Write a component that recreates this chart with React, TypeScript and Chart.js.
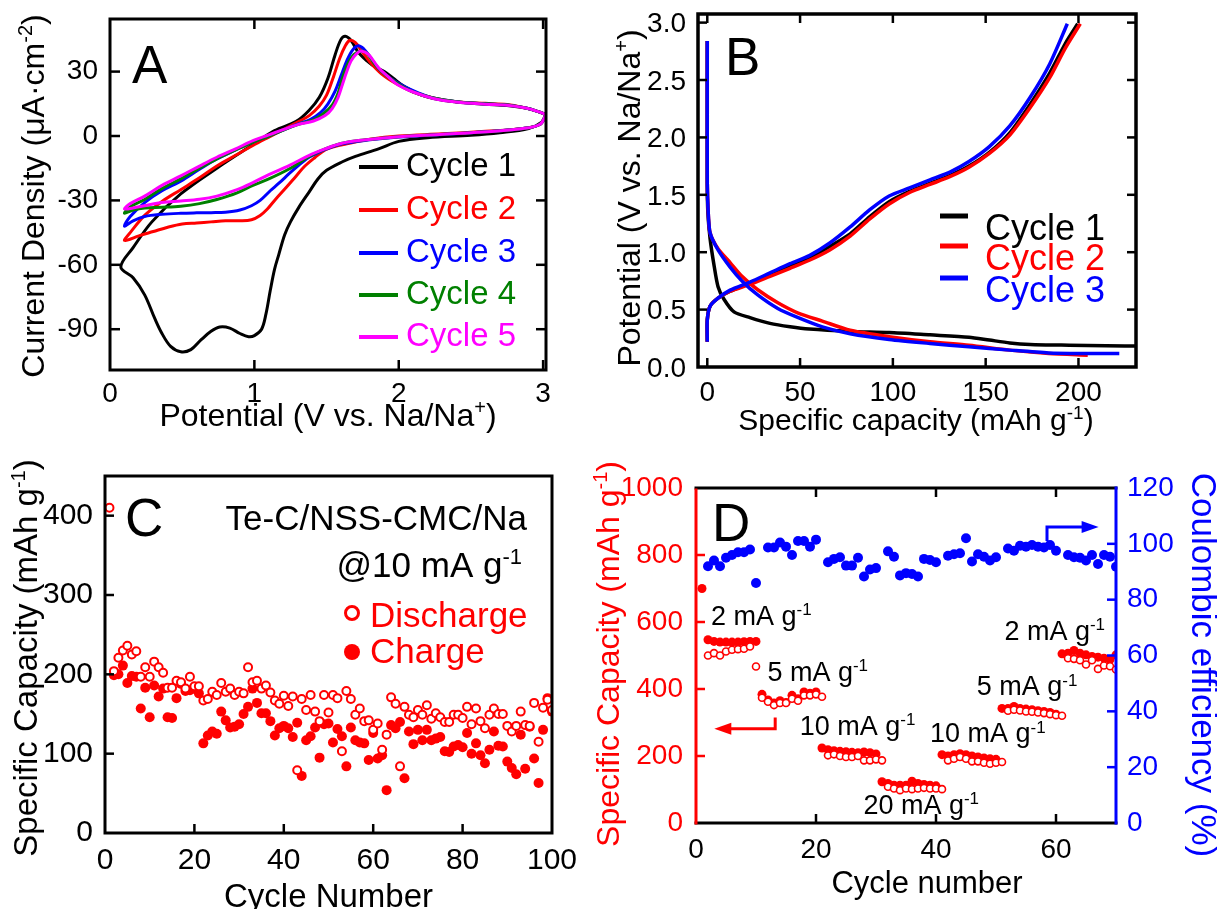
import React, { useEffect, useRef } from 'react';
import { Chart, registerables } from 'chart.js';

Chart.register(...registerables);

const FONT = '"Liberation Sans", Arial, Helvetica, sans-serif';
const BLACK = '#000000';
const RED = '#ff0000';
const BLUE = '#0000ff';
const GREEN = '#008000';
const MAGENTA = '#ff00ff';

/* ---------------- Panel A : cyclic voltammetry ---------------- */
const cvTicksX = [0, 1, 2, 3];
const cvTicksY = [30, 0, -30, -60, -90];

const cv1Potential = [3.02, 2.99, 2.9, 2.7, 2.5, 2.2, 2.0, 1.86, 1.7, 1.61, 1.5, 1.44, 1.38, 1.31, 1.25, 1.21, 1.17, 1.14, 1.11, 1.08, 1.05, 1.0, 0.96, 0.9, 0.83, 0.76, 0.7, 0.63, 0.56, 0.49, 0.42, 0.36, 0.31, 0.24, 0.16, 0.075,
  0.16, 0.29, 0.49, 0.74, 0.99, 1.14, 1.29, 1.38, 1.45, 1.51, 1.56, 1.6, 1.63, 1.67, 1.72, 1.78, 1.84, 1.9, 1.96, 2.04, 2.14, 2.24, 2.4, 2.6, 2.75, 2.88, 2.96, 3.02];
const cv1Current = [10, 6.5, 3.5, 1.5, 0.3, -0.8, -2.5, -6, -9.5, -12, -16, -20, -26, -33, -40, -46, -55, -62, -72, -83, -90, -93, -93.5, -92, -89.5, -89, -91, -95, -99.5, -100.5, -98, -92, -85, -74, -66, -61,
  -52, -40, -27, -15, -4, 2.5, 6.8, 12, 18, 27, 38, 45, 46.5, 44.5, 39, 35, 32, 30, 27, 23, 19.5, 17.5, 15.8, 14.8, 14.2, 13, 11.5, 10];

const cv2Potential = [3.02, 2.98, 2.86, 2.6, 2.3, 2.0, 1.8, 1.65, 1.55, 1.49, 1.42, 1.35, 1.29, 1.22, 1.14, 1.09, 1.04, 0.98, 0.9, 0.8, 0.7, 0.6, 0.5, 0.4, 0.3, 0.2, 0.12, 0.1,
  0.14, 0.24, 0.36, 0.49, 0.62, 0.74, 0.87, 0.99, 1.1, 1.2, 1.3, 1.38, 1.45, 1.5, 1.55, 1.59, 1.63, 1.66, 1.7, 1.75, 1.8, 1.88, 1.98, 2.1, 2.24, 2.4, 2.6, 2.75, 2.88, 2.96, 3.02];
const cv2Current = [10, 5.5, 3.5, 2.2, 1, 0, -1.5, -3.5, -5, -6.5, -10, -14, -18.6, -24, -30, -34, -37, -39, -39.5, -39.5, -40, -40.5, -41, -42.5, -44.5, -46.5, -48.5, -48.5,
  -45, -37, -30.5, -25, -19.5, -14, -9, -4.4, -0.5, 3, 6.5, 9.5, 14, 19, 28, 36, 42, 44.5, 43.5, 39, 34.5, 29, 24.5, 20.5, 17.7, 16, 15.2, 14.7, 13, 11.5, 10];

const cv3Potential = [3.02, 2.98, 2.86, 2.5, 2.0, 1.8, 1.61, 1.5, 1.42, 1.36, 1.25, 1.17, 1.11, 1.04, 0.98, 0.9, 0.8, 0.7, 0.6, 0.49, 0.36, 0.24, 0.16, 0.1,
  0.14, 0.24, 0.36, 0.49, 0.62, 0.74, 0.87, 0.99, 1.1, 1.2, 1.3, 1.39, 1.46, 1.51, 1.56, 1.6, 1.64, 1.68, 1.72, 1.76, 1.8, 1.86, 1.94, 2.04, 2.14, 2.24, 2.4, 2.6, 2.75, 2.88, 2.96, 3.02];
const cv3Current = [10, 5.5, 3.5, 1.5, -0.5, -1.8, -3.6, -6, -8.5, -10.7, -17, -22, -25.5, -30, -32.5, -34.5, -35.5, -35.7, -35.8, -36, -36.5, -37.5, -39.5, -42,
  -37.5, -31, -25.5, -21, -15.5, -10.7, -6.5, -2.8, 0, 2.8, 5.5, 7.8, 11, 15, 21, 28, 35, 40, 42, 40.4, 37, 31.5, 27, 23, 20, 17.7, 16, 15, 14.5, 13, 11.5, 10];

const cv4Potential = [3.02, 2.98, 2.86, 2.5, 2.0, 1.74, 1.6, 1.49, 1.38, 1.24, 1.1, 0.99, 0.88, 0.74, 0.62, 0.49, 0.36, 0.24, 0.16, 0.1,
  0.14, 0.24, 0.36, 0.49, 0.62, 0.74, 0.87, 0.99, 1.1, 1.2, 1.3, 1.41, 1.48, 1.54, 1.58, 1.61, 1.65, 1.69, 1.74, 1.78, 1.84, 1.9, 1.98, 2.1, 2.24, 2.4, 2.6, 2.75, 2.88, 2.96, 3.02];
const cv4Current = [10, 5.5, 3.5, 1.5, -0.3, -2, -3.5, -6, -9.5, -15.4, -20, -23, -26.5, -29.6, -31.5, -32.7, -33.2, -33.5, -34.5, -36,
  -33, -29.6, -24.5, -20, -15, -10.7, -6.5, -2.8, 0, 2.8, 5.3, 7.5, 10.5, 14.5, 20, 27, 34, 38, 39.6, 38.5, 33, 29, 25, 20.5, 17.7, 16, 15, 14.5, 13, 11.5, 10];

const cv5Potential = [3.02, 2.98, 2.86, 2.5, 2.0, 1.74, 1.6, 1.49, 1.38, 1.24, 1.1, 0.99, 0.88, 0.74, 0.62, 0.49, 0.36, 0.24, 0.16, 0.1,
  0.14, 0.24, 0.36, 0.49, 0.62, 0.74, 0.87, 0.99, 1.1, 1.2, 1.3, 1.41, 1.49, 1.54, 1.58, 1.61, 1.64, 1.67, 1.71, 1.74, 1.79, 1.86, 1.92, 1.99, 2.1, 2.24, 2.4, 2.6, 2.75, 2.88, 2.96, 3.02];
const cv5Current = [10, 5.5, 3.5, 1.5, -0.3, -2, -3.5, -6, -9, -13.8, -18, -21.7, -25, -28, -29.5, -30.3, -31, -32.5, -33.5, -34,
  -31.5, -28, -23, -18.6, -14, -9.9, -6, -2.2, 0.5, 3, 5.3, 7, 9.5, 12.9, 18, 24, 30, 35, 38.5, 39.6, 38, 31.8, 28, 24, 20.5, 17.5, 15.8, 14.8, 14.3, 13, 11.5, 10];

/* ---------------- Panel B : charge / discharge profiles ---------------- */
const gcdTicksX = [0, 50, 100, 150, 200];
const gcdTicksY = [0, 0.5, 1.0, 1.5, 2.0, 2.5, 3.0];

const dis1Capacity = [0, 0, 0, 0.3, 1.5, 3.7, 5.8, 9, 14.4, 23, 33.8, 44.6, 55, 77, 98, 120, 141, 152, 163, 174, 195, 215, 235];
const dis1Potential = [2.84, 2.2, 1.6, 1.35, 1.12, 0.88, 0.7, 0.59, 0.48, 0.43, 0.38, 0.35, 0.33, 0.31, 0.3, 0.28, 0.26, 0.235, 0.21, 0.197, 0.19, 0.185, 0.182];
const chg1Capacity = [0, 0, 1.5, 5.8, 12.3, 23, 33.8, 44.6, 55, 66, 77, 87.6, 98, 109, 120, 131, 141, 152, 163, 174, 184.5, 193, 199.6];
const chg1Potential = [0.22, 0.41, 0.53, 0.6, 0.66, 0.73, 0.81, 0.88, 0.95, 1.05, 1.16, 1.31, 1.44, 1.53, 1.6, 1.67, 1.75, 1.87, 2.04, 2.29, 2.56, 2.82, 2.99];

const dis2Capacity = [0, 0, 0.5, 1.5, 5.8, 12.3, 18.7, 27, 38, 49, 62, 77, 98, 120, 141, 163, 184, 205];
const dis2Potential = [2.84, 1.6, 1.35, 1.17, 1.03, 0.91, 0.79, 0.675, 0.56, 0.47, 0.4, 0.32, 0.264, 0.22, 0.19, 0.147, 0.117, 0.103];
const chg2Capacity = [0, 0, 1.5, 5.8, 12.3, 23, 33.8, 44.6, 55, 66, 77, 87.6, 98, 109, 120, 131, 141, 152, 163, 174, 184.5, 193, 201];
const chg2Potential = [0.22, 0.41, 0.53, 0.6, 0.66, 0.72, 0.79, 0.86, 0.93, 1.02, 1.14, 1.29, 1.42, 1.52, 1.59, 1.66, 1.74, 1.86, 2.02, 2.26, 2.52, 2.78, 2.99];

const dis3Capacity = [0, 0, 0.5, 1.5, 5.8, 12.3, 18.7, 27, 38, 49, 62, 77, 98, 120, 141, 163, 184, 205, 222];
const dis3Potential = [2.84, 1.6, 1.35, 1.17, 1.02, 0.87, 0.75, 0.63, 0.51, 0.43, 0.35, 0.29, 0.24, 0.205, 0.176, 0.147, 0.123, 0.118, 0.117];
const chg3Capacity = [0, 0, 1.5, 5.8, 12.3, 23, 33.8, 44.6, 55, 66, 77, 87.6, 98, 109, 120, 131, 141, 152, 163, 174, 184.5, 194];
const chg3Potential = [0.22, 0.41, 0.53, 0.6, 0.67, 0.74, 0.82, 0.9, 0.97, 1.08, 1.22, 1.37, 1.49, 1.56, 1.63, 1.7, 1.79, 1.92, 2.1, 2.35, 2.64, 2.99];

/* ---------------- Panel C : cycling at 10 mA g-1 ---------------- */
const cycTicksX = [0, 20, 40, 60, 80, 100];
const cycTicksY = [0, 100, 200, 300, 400];
const cycleDischarge = [
  410, 204, 221, 230, 236, 225, 229, 197, 209, 197,
  216, 209, 202, 183, 183, 192, 190, 182, 197, 185,
  185, 167, 169, 178, 174, 189, 178, 182, 174, 178,
  176, 209, 190, 192, 182, 186, 177, 167, 163, 173,
  160, 172, 79, 169, 155, 174, 153, 141, 174, 152,
  174, 170, 103, 179, 169, 149, 157, 141, 142, 130,
  138, 105, 124, 171, 163, 84, 159, 149, 146, 155,
  149, 161, 144, 151, 146, 140, 140, 149, 149, 145,
  159, 137, 157, 141, 132, 149, 157, 150, 150, 135,
  128, 135, 153, 136, 135, 164, 115, 158, 168, 155];
const cycleCharge = [
  null, 199, 200, 211, 189, 198, 197, 157, 183, 146,
  186, 172, 182, 146, 145, 170, 188, 179, 180, 182,
  176, 113, 123, 128, 125, 153, 142, 133, 134, 137,
  150, 159, 182, 164, 151, 151, 141, 123, 132, 135,
  132, 121, 139, 72, 117, 122, 133, 95, 137, 138,
  114, 131, 122, 84, 133, 117, 114, 113, 92, 126,
  94, 98, 54, 136, 132, 140, 69, 128, 112, 130,
  117, 130, 117, 119, 121, 103, 102, 109, 111, 108,
  126, 100, 113, 98, 88, 105, 128, 110, 109, 90,
  82, 74, 124, 81, 134, 94, 63, 130, 170, 153];

/* ---------------- Panel D : rate capability ---------------- */
const rateTicksX = [0, 20, 40, 60];
const rateTicksY = [0, 200, 400, 600, 800, 1000];
const rateTicksY2 = [0, 20, 40, 60, 80, 100, 120];
const rateCharge = [
  700, 547, 542, 540, 540, 540, 540, 541, 542, 542,
  384, 367, 358, 365, 360, 381, 371, 391, 387, 391,
  224, 219, 216, 214, 213, 211, 210, 212, 210, 206,
  123, 118, 113, 113, 113, 125, 118, 115, 113, 111,
  204, 200, 204, 207, 204, 200, 197, 194, 192, 190,
  342, 342, 348, 342, 340, 338, 335, 333, 330, 325,
  505, 507, 515, 507, 502, 497, 495, 492, 488, 502];
const rateDischarge = [
  null, 500, 507, 500, 512, 517, 519, 520, 527, 467,
  374, 362, 352, 358, 358, 371, 365, 381, 381, 384,
  377, 202, 205, 200, 197, 197, 200, 187, 187, 190,
  187, 108, 103, 98, 103, 101, 103, 105, 103, 103,
  101, 187, 192, 197, 192, 184, 184, 180, 177, 180,
  182, 335, 338, 336, 333, 332, 330, 328, 325, 322,
  320, 492, 490, 486, 473, 486, 460, 470, 468, 458];
const rateCE = [
  null, 92, 94, 92, 95, 96, 97, 97, 98, 86,
  null, 98.7, 98.7, 100.5, 99, 96, 101, 101, 99, 101.5,
  null, 93.4, 94.6, 95.2, 92.2, 92.2, 95, 88.3, 90.8, 91.3,
  null, 97.3, 95.4, 88.7, 89.5, 89.2, 88.3, 94.6, 94.2, 93.4,
  null, 95.7, 96.3, 96.6, 102, 93.7, 96.3, 95.4, 94, 95.2,
  null, 98.3, 97.5, 99.3, 99, 99.6, 99, 98.7, 99.6, 97.5,
  null, 96, 95.2, 95, 94, 96, 92.8, 96, 95.4, 91.8];
const rateNoteRates = ['2', '5', '10', '20', '10', '5', '2'];

/* ---------------- helpers ---------------- */
type Seg = { t: string; sup?: boolean };
const S = (t: string): Seg => ({ t });
const U = (t: string): Seg => ({ t, sup: true });

function drawRich(ctx: any, segs: Seg[], x: number, y: number, size: number, color: string,
  align: 'left' | 'center' | 'right' = 'left', rot = 0) {
  ctx.save();
  ctx.translate(x, y);
  if (rot) ctx.rotate(rot);
  ctx.textAlign = 'left';
  ctx.textBaseline = 'alphabetic';
  const supSize = Math.round(size * 0.62);
  let w = 0;
  for (const s of segs) {
    ctx.font = `${s.sup ? supSize : size}px ${FONT}`;
    w += ctx.measureText(s.t).width;
  }
  let cx = align === 'left' ? 0 : align === 'center' ? -w / 2 : -w;
  ctx.fillStyle = color;
  for (const s of segs) {
    ctx.font = `${s.sup ? supSize : size}px ${FONT}`;
    ctx.fillText(s.t, cx, s.sup ? -size * 0.36 : 0);
    cx += ctx.measureText(s.t).width;
  }
  ctx.restore();
}

function line(ctx: any, x1: number, y1: number, x2: number, y2: number) {
  ctx.beginPath();
  ctx.moveTo(x1, y1);
  ctx.lineTo(x2, y2);
  ctx.stroke();
}

const pts = (xs: number[], ys: number[]) => xs.map((x, i) => ({ x, y: ys[i] }));
const byCycle = (ys: (number | null)[]) => ys.map((y, i) => ({ x: i + 1, y }));

function baseOptions(padding: any, scales: any) {
  return {
    responsive: false,
    animation: false,
    devicePixelRatio: 1,
    events: [],
    layout: { padding },
    plugins: { legend: { display: false }, tooltip: { enabled: false }, title: { display: false } },
    scales,
  };
}

function ChartCanvas({ left, top, width, height, build }: any) {
  const ref = useRef<HTMLCanvasElement>(null);
  useEffect(() => {
    const chart = new Chart(ref.current as HTMLCanvasElement, build());
    return () => chart.destroy();
  }, []);
  return (
    <canvas ref={ref} width={width} height={height}
      style={{ position: 'absolute', left, top, width, height, display: 'block' }} />
  );
}

/* ---------------- Panel A ---------------- */
const cvSeries = [
  { label: 'Cycle 1', V: cv1Potential, I: cv1Current, color: BLACK },
  { label: 'Cycle 2', V: cv2Potential, I: cv2Current, color: RED },
  { label: 'Cycle 3', V: cv3Potential, I: cv3Current, color: BLUE },
  { label: 'Cycle 4', V: cv4Potential, I: cv4Current, color: GREEN },
  { label: 'Cycle 5', V: cv5Potential, I: cv5Current, color: MAGENTA },
];

function buildA() {
  const decor = {
    id: 'decorA',
    afterDraw(chart: any) {
      const { ctx, chartArea: a, scales } = chart;
      const xs = scales.x, ys = scales.y;
      ctx.save();
      ctx.strokeStyle = BLACK;
      ctx.lineWidth = 3;
      ctx.strokeRect(a.left, a.top, a.right - a.left, a.bottom - a.top);
      ctx.lineWidth = 2.5;
      cvTicksY.forEach((v) => {
        const p = ys.getPixelForValue(v);
        line(ctx, a.left, p, a.left + 10, p);
        line(ctx, a.right, p, a.right - 10, p);
      });
      cvTicksX.forEach((v) => {
        if (v === 0) return;
        const p = xs.getPixelForValue(v);
        line(ctx, p, a.bottom, p, a.bottom - 10);
        line(ctx, p, a.top, p, a.top + 10);
      });
      ctx.fillStyle = BLACK;
      ctx.font = `28px ${FONT}`;
      ctx.textAlign = 'right';
      ctx.textBaseline = 'middle';
      cvTicksY.forEach((v) => ctx.fillText(String(v), a.left - 12, ys.getPixelForValue(v)));
      ctx.textAlign = 'center';
      cvTicksX.forEach((v) => ctx.fillText(String(v), xs.getPixelForValue(v), a.bottom + 24));
      drawRich(ctx, [S('Potential (V vs. Na/Na'), U('+'), S(')')], (a.left + a.right) / 2, 426, 32, BLACK, 'center');
      drawRich(ctx, [S('Current Density (μA·cm'), U('-2'), S(')')], 44, 196, 32, BLACK, 'center', -Math.PI / 2);
      drawRich(ctx, [S('A')], 132, 83, 53, BLACK);
      const rows = [176, 219, 262, 304, 346];
      cvSeries.forEach((s, i) => {
        ctx.strokeStyle = s.color;
        ctx.lineWidth = 4;
        line(ctx, 359, rows[i] - 9, 398, rows[i] - 9);
        drawRich(ctx, [S(s.label)], 406, rows[i], 33, s.color);
      });
      ctx.restore();
    },
  };
  return {
    type: 'line',
    data: {
      datasets: cvSeries.map((s, i) => ({
        label: s.label,
        data: pts(s.V, s.I),
        borderColor: s.color,
        borderWidth: 3,
        pointRadius: 0,
        tension: 0.35,
        fill: false,
        order: 5 - i,
      })),
    },
    options: baseOptions({ left: 110, top: 19, right: 54, bottom: 80 }, {
      x: { type: 'linear', min: 0, max: 3.02, display: false },
      y: { type: 'linear', min: -109, max: 54.5, display: false },
    }),
    plugins: [decor],
  };
}

/* ---------------- Panel B ---------------- */
const gcdSeries = [
  { label: 'Cycle 1', color: BLACK, dis: pts(dis1Capacity, dis1Potential), chg: pts(chg1Capacity, chg1Potential) },
  { label: 'Cycle 2', color: RED, dis: pts(dis2Capacity, dis2Potential), chg: pts(chg2Capacity, chg2Potential) },
  { label: 'Cycle 3', color: BLUE, dis: pts(dis3Capacity, dis3Potential), chg: pts(chg3Capacity, chg3Potential) },
];

function buildB() {
  const decor = {
    id: 'decorB',
    afterDraw(chart: any) {
      const { ctx, chartArea: a, scales } = chart;
      const xs = scales.x, ys = scales.y;
      ctx.save();
      ctx.strokeStyle = BLACK;
      ctx.lineWidth = 3.5;
      ctx.strokeRect(a.left, a.top, a.right - a.left, a.bottom - a.top);
      ctx.lineWidth = 2.5;
      gcdTicksY.forEach((v) => {
        if (v === 0) return;
        const p = ys.getPixelForValue(v);
        line(ctx, a.left, p, a.left + 9, p);
        line(ctx, a.right, p, a.right - 9, p);
      });
      gcdTicksX.forEach((v) => {
        const p = xs.getPixelForValue(v);
        line(ctx, p, a.bottom, p, a.bottom - 9);
        line(ctx, p, a.top, p, a.top + 9);
      });
      ctx.fillStyle = BLACK;
      ctx.font = `28px ${FONT}`;
      ctx.textAlign = 'right';
      ctx.textBaseline = 'middle';
      gcdTicksY.forEach((v) => ctx.fillText(v.toFixed(1), a.left - 12, ys.getPixelForValue(v) + 2));
      ctx.textAlign = 'center';
      gcdTicksX.forEach((v) => ctx.fillText(String(v), xs.getPixelForValue(v), a.bottom + 26));
      drawRich(ctx, [S('Specific capacity (mAh g'), U('-1'), S(')')], 326, 430, 30, BLACK, 'center');
      drawRich(ctx, [S('Potential (V vs. Na/Na'), U('+'), S(')')], 50, 198, 32, BLACK, 'center', -Math.PI / 2);
      drawRich(ctx, [S('B')], 135, 75, 53, BLACK);
      const rows = [240, 270, 302];
      gcdSeries.forEach((s, i) => {
        ctx.strokeStyle = s.color;
        ctx.lineWidth = 5;
        line(ctx, 350, rows[i] - 24, 378, rows[i] - 24);
        drawRich(ctx, [S(s.label)], 395, rows[i], 36, s.color);
      });
      ctx.restore();
    },
  };
  const datasets: any[] = [];
  gcdSeries.forEach((s, i) => {
    datasets.push({ label: s.label + ' discharge', data: s.dis, borderColor: s.color, borderWidth: 3.5, pointRadius: 0, tension: 0.25, fill: false, order: 3 - i });
    datasets.push({ label: s.label + ' charge', data: s.chg, borderColor: s.color, borderWidth: 3.5, pointRadius: 0, tension: 0.25, fill: false, order: 3 - i });
  });
  return {
    type: 'line',
    data: { datasets },
    options: baseOptions({ left: 108, top: 14, right: 81, bottom: 83 }, {
      x: { type: 'linear', min: -5, max: 231, display: false },
      y: { type: 'linear', min: 0, max: 3.075, display: false },
    }),
    plugins: [decor],
  };
}

/* ---------------- Panel C ---------------- */
function buildC() {
  const decor = {
    id: 'decorC',
    afterDraw(chart: any) {
      const { ctx, chartArea: a, scales } = chart;
      const xs = scales.x, ys = scales.y;
      ctx.save();
      ctx.strokeStyle = BLACK;
      ctx.lineWidth = 3;
      ctx.strokeRect(a.left, a.top, a.right - a.left, a.bottom - a.top);
      ctx.lineWidth = 2.5;
      cycTicksY.forEach((v) => {
        if (v === 0) return;
        const p = ys.getPixelForValue(v);
        line(ctx, a.left, p, a.left + 9, p);
      });
      cycTicksX.forEach((v) => {
        if (v === 0 || v === 100) return;
        const p = xs.getPixelForValue(v);
        line(ctx, p, a.bottom, p, a.bottom - 9);
      });
      ctx.fillStyle = BLACK;
      ctx.font = `30px ${FONT}`;
      ctx.textAlign = 'right';
      ctx.textBaseline = 'middle';
      cycTicksY.forEach((v) => ctx.fillText(String(v), a.left - 12, ys.getPixelForValue(v)));
      ctx.textAlign = 'center';
      cycTicksX.forEach((v) => ctx.fillText(String(v), xs.getPixelForValue(v), a.bottom + 28));
      drawRich(ctx, [S('Cycle Number')], (a.left + a.right) / 2, 457, 33, BLACK, 'center');
      drawRich(ctx, [S('Specific Capacity (mAh g'), U('-1'), S(')')], 37, 208, 33, BLACK, 'center', -Math.PI / 2);
      drawRich(ctx, [S('C')], 125, 86, 53, BLACK);
      drawRich(ctx, [S('Te-C/NSS-CMC/Na')], 527, 80, 35, BLACK, 'right');
      drawRich(ctx, [S('@10 mA g'), U('-1')], 522, 127, 35, BLACK, 'right');
      // legend markers
      ctx.strokeStyle = RED;
      ctx.fillStyle = '#ffffff';
      ctx.lineWidth = 3;
      ctx.beginPath(); ctx.arc(352, 163, 6.5, 0, Math.PI * 2); ctx.fill(); ctx.stroke();
      ctx.fillStyle = RED;
      ctx.beginPath(); ctx.arc(352, 202, 8, 0, Math.PI * 2); ctx.fill();
      drawRich(ctx, [S('Discharge')], 370, 177, 35, RED);
      drawRich(ctx, [S('Charge')], 370, 213, 35, RED);
      ctx.restore();
    },
  };
  return {
    type: 'scatter',
    data: {
      datasets: [
        { label: 'Discharge', data: byCycle(cycleDischarge), pointRadius: 4, pointBorderWidth: 2, pointBackgroundColor: '#ffffff', pointBorderColor: RED, showLine: false, order: 1, clip: 0 },
        { label: 'Charge', data: byCycle(cycleCharge), pointRadius: 5, pointBorderWidth: 0, pointBackgroundColor: RED, pointBorderColor: RED, showLine: false, order: 2, clip: 0 },
      ],
    },
    options: baseOptions({ left: 105, top: 26, right: 48, bottom: 76 }, {
      x: { type: 'linear', min: 0, max: 100, display: false },
      y: { type: 'linear', min: 0, max: 450, display: false },
    }),
    plugins: [decor],
  };
}

/* ---------------- Panel D ---------------- */
function buildD() {
  const notePos = [[2.5, 591], [11.9, 424], [17.3, 264], [27.9, 27], [39, 241], [46.8, 381], [51.4, 547]];
  const decor = {
    id: 'decorD',
    afterDraw(chart: any) {
      const { ctx, chartArea: a, scales } = chart;
      const xs = scales.x, ys = scales.y, y2 = scales.y2;
      ctx.save();
      ctx.lineCap = 'square';
      ctx.lineWidth = 3;
      ctx.strokeStyle = BLACK;
      line(ctx, a.left, a.top, a.right, a.top);
      line(ctx, a.left, a.bottom, a.right, a.bottom);
      ctx.strokeStyle = RED;
      line(ctx, a.left, a.top + 2, a.left, a.bottom);
      ctx.strokeStyle = BLUE;
      line(ctx, a.right, a.top, a.right, a.bottom);
      ctx.lineCap = 'butt';
      ctx.lineWidth = 2.5;
      ctx.strokeStyle = RED;
      rateTicksY.forEach((v) => {
        if (v === 0 || v === 1000) return;
        const p = ys.getPixelForValue(v);
        line(ctx, a.left, p, a.left + 9, p);
      });
      ctx.strokeStyle = BLUE;
      rateTicksY2.forEach((v) => {
        if (v === 0 || v === 120) return;
        const p = y2.getPixelForValue(v);
        line(ctx, a.right, p, a.right - 9, p);
      });
      ctx.strokeStyle = BLACK;
      rateTicksX.forEach((v) => {
        if (v === 0) return;
        const p = xs.getPixelForValue(v);
        line(ctx, p, a.bottom, p, a.bottom - 9);
        line(ctx, p, a.top, p, a.top + 9);
      });
      ctx.font = `28px ${FONT}`;
      ctx.textBaseline = 'middle';
      ctx.textAlign = 'right';
      ctx.fillStyle = RED;
      rateTicksY.forEach((v) => ctx.fillText(String(v), a.left - 13, ys.getPixelForValue(v)));
      ctx.textAlign = 'left';
      ctx.fillStyle = BLUE;
      rateTicksY2.forEach((v) => ctx.fillText(String(v), a.right + 11, y2.getPixelForValue(v)));
      ctx.textAlign = 'center';
      ctx.fillStyle = BLACK;
      rateTicksX.forEach((v) => ctx.fillText(String(v), xs.getPixelForValue(v), a.bottom + 27));
      drawRich(ctx, [S('Cycle number')], 342, 443, 31, BLACK, 'center');
      drawRich(ctx, [S('Specific Capacity (mAh g'), U('-1'), S(')')], 34, 204, 32, RED, 'center', -Math.PI / 2);
      drawRich(ctx, [S('Coulombic efficiency (%)')], 607, 215, 35, BLUE, 'center', Math.PI / 2);
      drawRich(ctx, [S('D')], 127, 91, 53, BLACK);
      rateNoteRates.forEach((r, i) => {
        drawRich(ctx, [S(r + ' mA g'), U('-1')], xs.getPixelForValue(notePos[i][0]), ys.getPixelForValue(notePos[i][1]), 27, BLACK);
      });
      // red arrow (points to left axis)
      ctx.strokeStyle = RED;
      ctx.fillStyle = RED;
      ctx.lineWidth = 3;
      const rx1 = xs.getPixelForValue(13.2), ry1 = ys.getPixelForValue(315), ry2 = ys.getPixelForValue(281), rx2 = xs.getPixelForValue(3.05);
      ctx.beginPath(); ctx.moveTo(rx1, ry1); ctx.lineTo(rx1, ry2); ctx.lineTo(rx2 + 12, ry2); ctx.stroke();
      ctx.beginPath(); ctx.moveTo(rx2, ry2); ctx.lineTo(rx2 + 17, ry2 - 6); ctx.lineTo(rx2 + 17, ry2 + 6); ctx.closePath(); ctx.fill();
      // blue arrow (points to right axis)
      ctx.strokeStyle = BLUE;
      ctx.fillStyle = BLUE;
      const bx1 = xs.getPixelForValue(58.5), by1 = y2.getPixelForValue(101), by2 = y2.getPixelForValue(106), bx2 = xs.getPixelForValue(67.1);
      ctx.beginPath(); ctx.moveTo(bx1, by1); ctx.lineTo(bx1, by2); ctx.lineTo(bx2 - 12, by2); ctx.stroke();
      ctx.beginPath(); ctx.moveTo(bx2, by2); ctx.lineTo(bx2 - 17, by2 - 6); ctx.lineTo(bx2 - 17, by2 + 6); ctx.closePath(); ctx.fill();
      ctx.restore();
    },
  };
  return {
    type: 'scatter',
    data: {
      datasets: [
        { label: 'Discharge', data: byCycle(rateDischarge), yAxisID: 'y', pointRadius: 3.5, pointBorderWidth: 1.6, pointBackgroundColor: '#ffffff', pointBorderColor: RED, showLine: false, order: 1, clip: 0 },
        { label: 'Charge', data: byCycle(rateCharge), yAxisID: 'y', pointRadius: 4.5, pointBorderWidth: 0, pointBackgroundColor: RED, pointBorderColor: RED, showLine: false, order: 2, clip: 0 },
        { label: 'Coulombic efficiency', data: byCycle(rateCE), yAxisID: 'y2', pointRadius: 5, pointBorderWidth: 0, pointBackgroundColor: BLUE, pointBorderColor: BLUE, showLine: false, order: 3, clip: 0 },
      ],
    },
    options: baseOptions({ left: 111, top: 38, right: 101, bottom: 86 }, {
      x: { type: 'linear', min: 0, max: 70, display: false },
      y: { type: 'linear', position: 'left', min: 0, max: 1000, display: false },
      y2: { type: 'linear', position: 'right', min: 0, max: 120, display: false },
    }),
    plugins: [decor],
  };
}

export default function App() {
  return (
    <div style={{ position: 'absolute', left: 0, top: 0, width: 1217, height: 909, overflow: 'hidden', background: '#ffffff' }}>
      <ChartCanvas left={0} top={0} width={600} height={450} build={buildA} />
      <ChartCanvas left={590} top={0} width={627} height={450} build={buildB} />
      <ChartCanvas left={0} top={450} width={600} height={459} build={buildC} />
      <ChartCanvas left={585} top={450} width={632} height={459} build={buildD} />
    </div>
  );
}
